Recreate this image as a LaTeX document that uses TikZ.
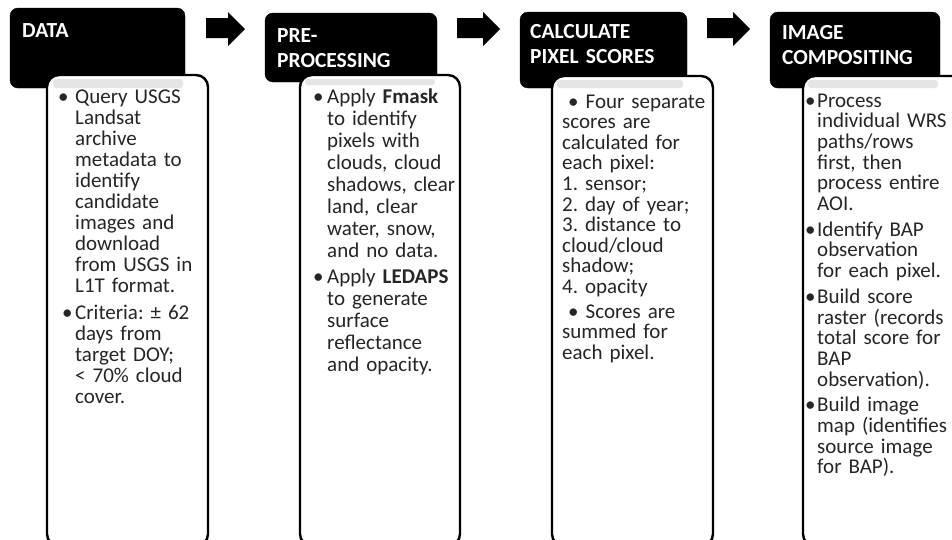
\documentclass[tikz,border=0pt]{standalone}
\usepackage{fontspec}
\setmainfont{Carlito}
\usepackage{tikz}
\usetikzlibrary{positioning}
\frenchspacing
\newcommand{\bul}[1][15pt]{\leavevmode\llap{\makebox[#1][l]{\textbullet}}}

\begin{document}
\begin{tikzpicture}[x=1pt,y=-1pt,
  head/.style={fill=black, rounded corners=8pt},
  panel/.style={draw=black, line width=2.4pt, fill=white, rounded corners=12pt},
  shade/.style={fill=black!10, rounded corners=3pt},
  headtext/.style={anchor=base west, inner sep=0pt, text=white, text width=165pt, align=left,
    font=\bfseries\fontsize{21.5}{25}\selectfont},
  bodytext/.style={anchor=base west, inner sep=0pt, text=black!85, text width=160pt, align=left}]
\useasboundingbox (0,0) rectangle (952,539);
% headers
\draw[head] (10,8) rectangle (185,88);
\draw[head] (265,13) rectangle (437,82);
\draw[head] (520,12) rectangle (687,88);
\draw[head] (770,12) rectangle (940,88);
% panels
\draw[panel] (47,75) rectangle (208,546);
\draw[panel] (300,75) rectangle (460,546);
\draw[panel] (552,76) rectangle (713,546);
\draw[panel] (803,76) rectangle (968,546);
\fill[shade] (53,79) rectangle (183,88);
\fill[shade] (305,79) rectangle (435,85);
\fill[shade] (557,80) rectangle (683,88);
\fill[shade] (808,80) rectangle (938,88);
% arrows
\foreach \xs/\xt in {206/245, 457/500, 707/750}
  \fill[black] (\xs,18) -- ({\xt-17},18) -- ({\xt-17},12) -- (\xt,29)
    -- ({\xt-17},46) -- ({\xt-17},38) -- (\xs,38) -- cycle;
% titles
\node[headtext] (hdata) at (22,37) {DATA};
\node[headtext] (hpre) at (277,42) {PRE-\\PROCESSING};
\node[headtext] (hcalc) at (530,38) {CALCULATE\\PIXEL SCORES};
\node[headtext] (himg) at (782,39) {IMAGE\\COMPOSITING};
% panel texts
\node[bodytext, font=\fontsize{21}{21.1}\selectfont] (tdata) at (75,103)
  {\bul[17pt]Query USGS\\Landsat\\archive\\metadata to\\identify\\candidate\\images and\\download\\from USGS in\\L1T format.\\[5pt]
   \bul[13pt]Criteria: ± 62\\days from\\target DOY;\\< 70\% cloud\\cover.};
\node[bodytext, font=\fontsize{21}{22}\selectfont] (tpre) at (327,103)
  {\bul[14pt]Apply \textbf{Fmask}\\to identify\\pixels with\\clouds, cloud\\shadows, clear\\land, clear\\water, snow,\\and no data.\\[4pt]
   \bul[14pt]Apply \textbf{LEDAPS}\\to generate\\surface\\reflectance\\and opacity.};
\node[bodytext, font=\fontsize{21}{20.6}\selectfont] (tcalc) at (562,108)
  {\hspace*{6pt}\textbullet\ Four separate\\scores are\\calculated for\\each pixel:\\1. sensor;\\2. day of year;\\3. distance to\\cloud/cloud\\shadow;\\4. opacity\\[4pt]
   \hspace*{6pt}\textbullet\ Scores are\\summed for\\each pixel.};
\node[bodytext, font=\fontsize{21}{20.7}\selectfont] (timg) at (817,107)
  {\bul[12pt]Process\\individual WRS\\paths/rows\\first, then\\process entire\\AOI.\\[5pt]
   \bul[12pt]Identify BAP\\observation\\for each pixel.\\[5pt]
   \bul[12pt]Build score\\raster (records\\total score for\\BAP\\observation).\\[5pt]
   \bul[12pt]Build image\\map (identifies\\source image\\for BAP).};
\end{tikzpicture}
\end{document}
